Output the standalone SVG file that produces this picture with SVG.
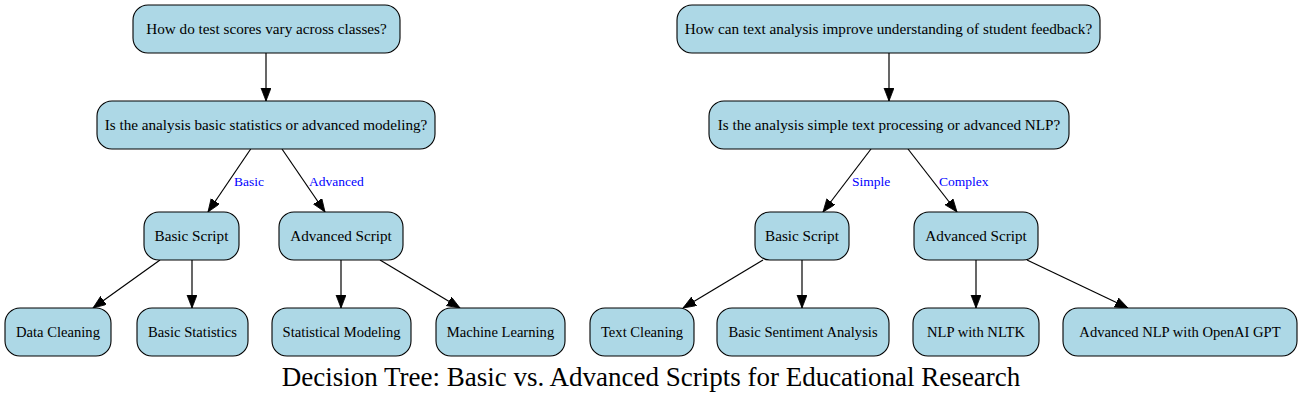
<svg xmlns="http://www.w3.org/2000/svg" width="1302" height="403" viewBox="0 0 1302 403">
<style>
.node rect{fill:#ADD8E6;stroke:#000;stroke-width:1.1}
.node text{font-size:15.2px;fill:#000;text-anchor:middle}
.leaf text{font-size:14.6px}
.edges line{stroke:#000;stroke-width:1.2;marker-end:url(#arr)}
.elabel{font-size:13.5px;fill:#0000FF}
.title{font-size:27px;fill:#000;text-anchor:middle}
</style>
<defs>
<marker id="arr" markerUnits="userSpaceOnUse" markerWidth="14" markerHeight="11" refX="13" refY="5" orient="auto">
<path d="M0,0 L13,5 L0,10 z" fill="#000" stroke="#000" stroke-width="0.8"/>
</marker>
</defs>
<rect width="1302" height="403" fill="#fff"/>
<g font-family="'Liberation Serif', 'DejaVu Serif', serif">
<g class="edges" id="edges">
<line x1="266" y1="53" x2="266" y2="101"/>
<line x1="250.7" y1="149" x2="208" y2="212"/>
<line x1="282" y1="149" x2="325" y2="212"/>
<line x1="160" y1="260" x2="93" y2="308"/>
<line x1="192" y1="260" x2="192" y2="308"/>
<line x1="341" y1="260" x2="341" y2="308"/>
<line x1="380" y1="260" x2="460" y2="308"/>
<line x1="889" y1="53" x2="889" y2="101"/>
<line x1="871" y1="149" x2="823" y2="212"/>
<line x1="908" y1="149" x2="957" y2="212"/>
<line x1="763" y1="260" x2="683" y2="308"/>
<line x1="802" y1="260" x2="802" y2="308"/>
<line x1="976" y1="260" x2="976" y2="308"/>
<line x1="1027" y1="260" x2="1128" y2="308"/>
<text class="elabel" x="234" y="186">Basic</text>
<text class="elabel" x="309" y="186">Advanced</text>
<text class="elabel" x="852" y="186">Simple</text>
<text class="elabel" x="939" y="186">Complex</text>
</g>
<g class="node" id="q1"><rect x="133" y="5" width="267" height="48" rx="15"/><text x="266.5" y="34">How do test scores vary across classes?</text></g>
<g class="node" id="q1b"><rect x="97" y="101" width="338" height="48" rx="15"/><text x="266" y="130">Is the analysis basic statistics or advanced modeling?</text></g>
<g class="node" id="l_basic"><rect x="144" y="212" width="95" height="48" rx="15"/><text x="191.5" y="241">Basic Script</text></g>
<g class="node" id="l_adv"><rect x="279" y="212" width="124" height="48" rx="15"/><text x="341" y="241">Advanced Script</text></g>
<g class="node leaf" id="l_clean"><rect x="5" y="308" width="106" height="48" rx="15"/><text x="58" y="337">Data Cleaning</text></g>
<g class="node leaf" id="l_stats"><rect x="137" y="308" width="111" height="48" rx="15"/><text x="192.5" y="337">Basic Statistics</text></g>
<g class="node leaf" id="l_model"><rect x="272" y="308" width="139" height="48" rx="15"/><text x="341.5" y="337">Statistical Modeling</text></g>
<g class="node leaf" id="l_ml"><rect x="436" y="308" width="129" height="48" rx="15"/><text x="500.5" y="337">Machine Learning</text></g>
<g class="node" id="q2"><rect x="677" y="5" width="423" height="48" rx="15"/><text x="888.5" y="34">How can text analysis improve understanding of student feedback?</text></g>
<g class="node" id="q2b"><rect x="709" y="101" width="360" height="48" rx="15"/><text x="889" y="130">Is the analysis simple text processing or advanced NLP?</text></g>
<g class="node" id="r_basic"><rect x="755" y="212" width="94" height="48" rx="15"/><text x="802" y="241">Basic Script</text></g>
<g class="node" id="r_adv"><rect x="914" y="212" width="124" height="48" rx="15"/><text x="976" y="241">Advanced Script</text></g>
<g class="node leaf" id="r_clean"><rect x="590" y="308" width="104" height="48" rx="15"/><text x="642" y="337">Text Cleaning</text></g>
<g class="node leaf" id="r_sent"><rect x="717" y="308" width="172" height="48" rx="15"/><text x="803" y="337">Basic Sentiment Analysis</text></g>
<g class="node leaf" id="r_nltk"><rect x="913" y="308" width="126" height="48" rx="15"/><text x="976" y="337">NLP with NLTK</text></g>
<g class="node leaf" id="r_gpt"><rect x="1063" y="308" width="234" height="48" rx="15"/><text x="1180" y="337">Advanced NLP with OpenAI GPT</text></g>
<text class="title" x="651" y="386">Decision Tree: Basic vs. Advanced Scripts for Educational Research</text>
</g>
</svg>
